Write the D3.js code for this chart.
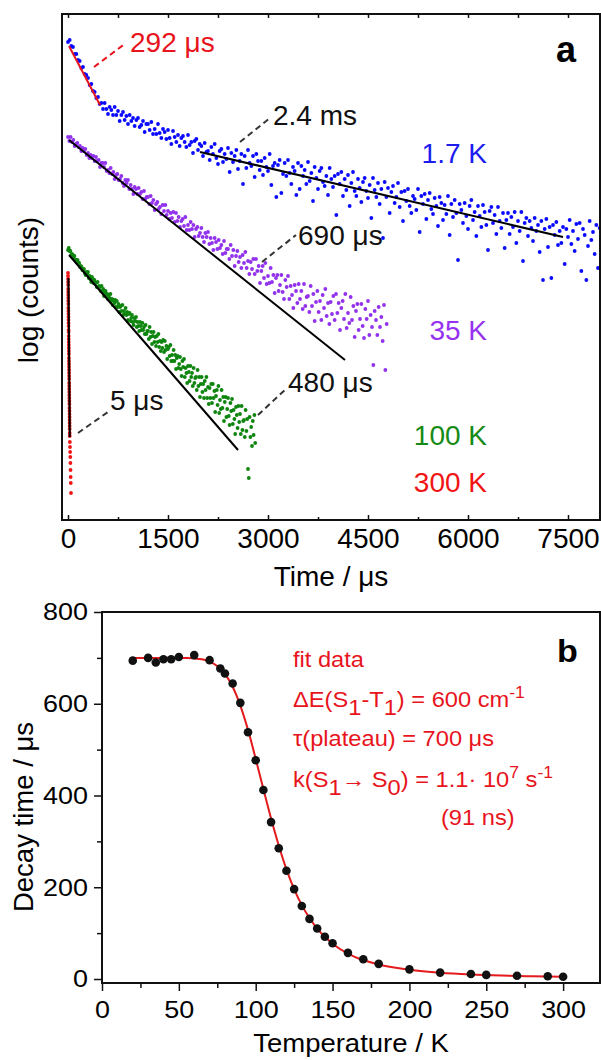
<!DOCTYPE html>
<html>
<head>
<meta charset="utf-8">
<script src="https://cdn.jsdelivr.net/npm/d3@7"></script>
<style>
  body { margin: 0; background: #fff; }
  svg { display: block; font-family: "Liberation Sans", Arial, sans-serif; }
</style>
</head>
<body>
<svg id="chart" width="601" height="1060"></svg>
<script>
// ---------- panel a : decay curves (time in us, log counts arbitrary units) ----------
const blueStep = 25;   // us per channel
const blueLog = [
  4.78,4.80,4.74,4.73,4.66,4.66,4.60,4.59,4.52,4.53,4.46,4.45,4.42,4.35,4.36,4.29,4.28,4.22,4.23,4.16,
  4.17,4.11,4.17,4.11,4.06,4.13,4.10,4.05,4.13,4.05,4.09,3.99,4.05,4.08,4.00,4.04,3.96,4.05,3.99,4.02,
  3.94,4.00,4.02,3.93,3.95,3.99,3.88,3.96,3.96,3.90,3.98,3.86,3.91,3.86,3.96,3.87,3.82,3.91,3.88,3.81,
  3.90,3.82,3.76,3.89,3.83,3.78,3.85,3.74,3.82,3.84,3.78,3.73,3.85,3.75,3.78,3.67,3.79,3.81,3.70,3.76,
  3.74,3.64,3.77,3.68,3.69,3.60,3.73,3.66,3.76,3.62,3.56,3.69,3.71,3.58,3.66,3.61,3.72,3.48,3.67,3.58,
  3.64,3.70,3.51,3.59,3.66,3.36,3.64,3.52,3.70,3.57,3.54,3.64,3.43,3.66,3.59,3.50,3.59,3.45,3.62,3.53,
  3.49,3.66,3.35,3.54,3.57,3.23,3.55,3.60,3.27,3.46,3.57,3.44,3.60,3.47,3.36,3.53,3.49,3.25,3.57,3.31,
  3.54,3.44,3.50,3.36,3.58,3.39,3.47,3.19,3.53,3.42,3.31,3.49,3.52,3.38,3.34,3.44,3.25,3.52,3.41,3.33,
  3.44,3.05,3.46,3.36,3.48,3.24,3.41,3.30,3.45,3.14,3.37,3.48,3.29,3.24,3.41,3.32,3.18,3.38,3.42,3.29,
  3.22,3.35,3.02,3.42,3.30,3.23,3.37,3.16,3.31,2.82,3.38,3.23,3.32,3.07,3.28,3.34,3.17,3.23,3.37,3.13,
  3.28,2.99,3.29,3.19,3.31,3.14,3.07,3.24,3.21,3.10,3.31,2.88,3.24,3.16,3.26,3.01,3.20,3.27,3.11,3.06,
  3.22,3.14,2.94,3.23,3.17,3.00,3.15,3.06,3.24,2.85,3.16,3.03,3.20,3.07,2.60,3.16,3.10,2.97,3.17,3.04,
  2.91,3.14,3.20,3.00,3.08,2.84,3.14,3.04,2.93,3.15,3.08,2.95,2.70,3.09,3.13,2.97,3.05,2.86,3.13,2.99,
  2.92,3.07,2.72,3.00,3.07,2.86,3.03,2.93,3.08,2.77,2.99,2.89,3.08,2.59,2.97,3.02,2.84,2.99,2.92,2.79,
  3.02,2.89,2.95,2.68,2.99,2.40,2.91,3.01,2.73,2.93,2.42,2.95,2.85,2.98,2.75,2.89,2.77,2.93,2.56,2.91,
  2.83,3.00,2.76,2.89,2.69,2.96,2.81,2.97,2.49,2.91,2.85,2.40,2.74,2.99,2.80,2.88,2.66,2.95,2.52,2.92
];

const purpleStep = 20;
const purpleLog = [
  3.83,3.79,3.83,3.78,3.80,3.74,3.76,3.77,3.73,3.74,3.69,3.72,3.69,3.71,3.65,3.67,3.62,3.65,3.62,3.64,
  3.59,3.63,3.59,3.60,3.53,3.57,3.57,3.53,3.57,3.49,3.50,3.47,3.52,3.46,3.48,3.41,3.45,3.46,3.40,3.41,
  3.44,3.37,3.34,3.40,3.37,3.40,3.31,3.35,3.31,3.26,3.33,3.31,3.26,3.32,3.26,3.28,3.21,3.29,3.21,3.23,
  3.23,3.16,3.24,3.17,3.20,3.10,3.16,3.18,3.11,3.13,3.06,3.15,3.09,3.15,3.05,3.09,3.01,3.07,3.02,3.08,
  2.98,3.07,2.99,3.03,2.93,2.99,3.01,2.94,3.03,2.90,2.95,2.90,2.98,2.91,2.95,2.83,2.91,2.93,2.84,2.87,
  2.92,2.83,2.78,2.87,2.83,2.88,2.76,2.82,2.77,2.70,2.82,2.78,2.71,2.80,2.72,2.75,2.66,2.79,2.67,2.71,
  2.71,2.61,2.75,2.64,2.70,2.54,2.64,2.69,2.58,2.63,2.52,2.65,2.57,2.68,2.52,2.59,2.46,2.58,2.51,2.61,
  2.46,2.61,2.49,2.54,2.37,2.49,2.54,2.42,2.57,2.36,2.44,2.37,2.52,2.38,2.45,2.27,2.42,2.45,2.29,2.35,
  2.45,2.28,2.21,2.40,2.33,2.44,2.21,2.34,2.25,2.12,2.35,2.29,2.17,2.36,2.21,2.29,2.11,2.36,2.14,2.23,
  2.24,2.08,2.34,2.14,2.26,1.99,2.18,2.29,2.08,2.19,2.00,2.25,2.12,2.31,2.04,2.17,1.96,2.18,2.06,2.24,
  2.00,2.26,2.07,2.17,1.90,2.12,2.19,2.01,2.26,1.92,2.07,1.97,2.23,2.00,2.14,1.83,2.09,2.16,1.90,2.01,
  2.16,1.94,1.82,2.11,2.01,2.19,1.85,2.05,1.93,1.55,2.09,2.00,1.85,2.13,1.93,2.03,1.79,2.15,1.50,1.96
];

const greenStep = 12;
const greenLog = [
  2.70,2.72,2.69,2.69,2.65,2.66,2.65,2.62,2.64,2.60,2.60,2.58,2.60,2.57,2.57,2.53,2.54,2.53,2.50,2.50,
  2.51,2.47,2.45,2.48,2.46,2.48,2.42,2.44,2.41,2.38,2.43,2.41,2.37,2.40,2.37,2.37,2.33,2.38,2.33,2.34,
  2.33,2.29,2.34,2.29,2.31,2.24,2.27,2.29,2.24,2.26,2.21,2.25,2.22,2.26,2.19,2.21,2.15,2.20,2.17,2.20,
  2.13,2.19,2.13,2.16,2.08,2.13,2.14,2.09,2.15,2.05,2.09,2.06,2.12,2.05,2.08,2.00,2.06,2.07,1.99,2.02,
  2.05,1.98,1.95,2.02,1.99,2.03,1.93,1.98,1.94,1.89,1.98,1.94,1.90,1.97,1.90,1.93,1.86,1.95,1.86,1.89,
  1.89,1.81,1.93,1.83,1.88,1.76,1.84,1.88,1.78,1.83,1.74,1.84,1.78,1.86,1.73,1.79,1.69,1.78,1.72,1.80,
  1.68,1.79,1.70,1.74,1.61,1.71,1.73,1.64,1.75,1.59,1.65,1.59,1.70,1.59,1.65,1.51,1.62,1.64,1.52,1.56,
  1.63,1.51,1.44,1.59,1.53,1.61,1.43,1.52,1.47,1.37,1.54,1.48,1.39,1.54,1.43,1.47,1.34,1.52,1.37,1.42,
  1.43,1.30,1.50,1.34,1.43,1.23,1.36,1.43,1.28,1.36,1.22,1.39,1.30,1.43,1.22,1.33,1.16,1.32,1.22,1.36,
  1.17,1.36,1.22,1.29,1.08,1.24,1.30,1.15,1.34,1.07,1.20,1.11,1.30,1.12,1.23,0.99,1.18,1.23,1.03,1.11,
  1.22,1.04,0.95,1.17,1.09,1.21,0.96,1.10,1.01,0.86,1.13,1.05,0.92,1.14,0.98,1.06,0.86,1.14,0.90,0.99,
  1.00,0.83,1.10,0.89,1.01,0.51,0.42,1.03,0.83,0.93,0.74,0.99,0.85,1.05,0.77
];

// 300 K: fast part sampled every 0.5 us, then the weak tail
const redStep = 0.5;
const redLog = [
  2.47,2.44,2.41,2.38,2.35,2.31,2.28,2.25,2.22,2.19,2.16,2.12,2.09,2.06,2.03,2.00,1.97,1.94,1.90,1.88,
  1.84,1.81,1.78,1.75,1.72,1.69,1.66,1.62,1.59,1.56,1.53,1.50,1.47,1.44,1.41,1.37,1.34,1.31,1.28,1.25,
  1.22,1.19,1.16,1.12,1.09,1.06,1.03,1.00,0.97,0.94,0.91,0.87,0.84
];
const redTailTime = [28, 30, 32, 34, 36, 38, 40, 42, 45];
const redTailLog  = [0.78, 0.73, 0.68, 0.63, 0.57, 0.50, 0.43, 0.37, 0.27];

// mono-exponential fits [time, log counts]
const fitBlueFast = [[15, 4.74], [480, 4.15]];
const fitBlueSlow = [[1980, 3.68], [7425, 2.83]];
const fitPurple   = [[15, 3.80], [4155, 1.60]];
const fitGreen    = [[15, 2.65], [2550, 0.70]];
const fitRed      = [[7, 2.42], [27, 0.83]];

const xTicksA = [0, 1500, 3000, 4500, 6000, 7500];
const xMinorA = [750, 2250, 3750, 5250, 6750];

// ---------- panel b : decay time vs temperature ----------
const tempK   = [20,30,35,40,45,50,60,70,77,80,85,90,95,100,105,110,115,120,125,130,135,140,145,150,160,170,180,200,220,240,250,270,290,300];
const decayUs = [694,700,690,697,697,702,706,695,677,666,644,602,538,477,412,342,285,236,196,159,131,110,92,78,57,43,33,21,14,11,9,7,6,5];

const fitTempK   = [20,30,40,50,55,60,65,70,75,80,85,90,95,100,105,110,115,120,125,130,135,140,145,150,160,170,180,190,200,220,240,260,280,300];
const fitDecayUs = [700,700,700,700,699.7,699,697,692,682,665,637,596,543,480,414,350,291,239,196,161,133,110,92,77,55.5,41.3,31.6,24.9,20.0,13.6,9.9,7.6,6.0,4.9];

const xTicksB = [0, 50, 100, 150, 200, 250, 300];
const xMinorB = [25, 75, 125, 175, 225, 275];
const yTicksB = [0, 200, 400, 600, 800];
const yMinorB = [100, 300, 500, 700];

const svg = d3.select('#chart');
const plain = d3.format('d');

// stretch text horizontally (panel b glyphs are wider than tall)
function stretch(sel, k) {
  sel.each(function () {
    const t = d3.select(this);
    const x = +t.attr('x') || 0, y = +t.attr('y') || 0;
    t.attr('x', null).attr('y', null)
      .attr('transform', `translate(${x},${y}) scale(${k},1)`);
  });
}

// ================= panel a =================
const xA = d3.scaleLinear().domain([-90, 7980]).range([62, 600]);
const yA = d3.scaleLinear().domain([0, 5.06]).range([520, 14]);
const gA = svg.append('g');

const decays = [
  { color: '#0a0aff', step: blueStep, values: blueLog },
  { color: '#9232ec', step: purpleStep, values: purpleLog },
  { color: '#0e850e', step: greenStep, values: greenLog },
];

const dots = decays.flatMap(s => s.values.map((v, i) => ({ t: i * s.step, v, color: s.color })));
redLog.forEach((v, i) => dots.push({ t: i * redStep, v, color: '#f01414' }));
redTailTime.forEach((t, i) => dots.push({ t, v: redTailLog[i], color: '#f01414' }));

gA.append('g').selectAll('circle')
  .data(dots)
  .join('circle')
  .attr('cx', d => xA(d.t))
  .attr('cy', d => yA(d.v))
  .attr('r', 1.9)
  .attr('fill', d => d.color);

const lineA = d3.line().x(d => xA(d[0])).y(d => yA(d[1]));
const fits = [
  { pts: fitBlueFast, color: '#e8141c' },
  { pts: fitBlueSlow, color: '#000' },
  { pts: fitPurple, color: '#000' },
  { pts: fitGreen, color: '#000' },
  { pts: fitRed, color: '#000' },
];
gA.append('g').selectAll('path')
  .data(fits)
  .join('path')
  .attr('d', d => lineA(d.pts))
  .attr('fill', 'none')
  .attr('stroke', d => d.color)
  .attr('stroke-width', 2);

// dashed leaders + lifetimes
const leaders = [
  { a: [390, 4.53], b: [870, 4.77], color: '#e8141c' },
  { a: [2580, 3.78], b: [3030, 4.02], color: '#333' },
  { a: [2910, 2.58], b: [3420, 2.85], color: '#333' },
  { a: [2850, 1.05], b: [3285, 1.32], color: '#333' },
  { a: [150, 0.87], b: [620, 1.09], color: '#333' },
];
gA.append('g').selectAll('line')
  .data(leaders)
  .join('line')
  .attr('x1', d => xA(d.a[0])).attr('y1', d => yA(d.a[1]))
  .attr('x2', d => xA(d.b[0])).attr('y2', d => yA(d.b[1]))
  .attr('stroke', d => d.color)
  .attr('stroke-width', 2)
  .attr('stroke-dasharray', '6,4');

const lifetimes = [
  { text: '292 \u03bcs', t: 930, v: 4.68, color: '#e8141c' },
  { text: '2.4 ms', t: 3075, v: 3.95, color: '#111' },
  { text: '690 \u03bcs', t: 3450, v: 2.75, color: '#111' },
  { text: '480 \u03bcs', t: 3300, v: 1.28, color: '#111' },
  { text: '5 \u03bcs', t: 630, v: 1.10, color: '#111' },
];
gA.append('g').selectAll('text')
  .data(lifetimes)
  .join('text')
  .attr('x', d => xA(d.t)).attr('y', d => yA(d.v))
  .attr('fill', d => d.color)
  .attr('font-size', 28)
  .text(d => d.text);

const tempLabels = [
  { text: '1.7 K', v: 3.57, color: '#1c1cf0' },
  { text: '35 K', v: 1.80, color: '#9632f0' },
  { text: '100 K', v: 0.75, color: '#158a15' },
  { text: '300 K', v: 0.28, color: '#f01414' },
];
gA.append('g').selectAll('text')
  .data(tempLabels)
  .join('text')
  .attr('x', xA(6285)).attr('y', d => yA(d.v))
  .attr('text-anchor', 'end')
  .attr('fill', d => d.color)
  .attr('font-size', 28)
  .text(d => d.text);

// axes (inward ticks, mirrored on top)
const axA = gA.append('g').attr('transform', 'translate(0,520)')
  .call(d3.axisBottom(xA).tickValues(xTicksA).tickFormat(plain)
    .tickSizeInner(-5).tickSizeOuter(0).tickPadding(8));
axA.selectAll('text').attr('font-size', 28).attr('fill', '#000');
gA.append('g').attr('transform', 'translate(0,520)')
  .call(d3.axisBottom(xA).tickValues(xMinorA).tickSize(-3).tickFormat(''));
gA.append('g').attr('transform', 'translate(0,14)')
  .call(d3.axisTop(xA).tickValues(xTicksA.concat(xMinorA)).tickSize(-4).tickFormat(''));
gA.selectAll('.domain').remove();
gA.selectAll('.tick line').attr('stroke', '#111').attr('stroke-width', 1.5);
gA.selectAll('g').attr('font-family', null);

gA.append('rect')
  .attr('x', 62).attr('y', 14).attr('width', 538).attr('height', 506)
  .attr('fill', 'none').attr('stroke', '#111').attr('stroke-width', 2);

gA.append('text').attr('x', 331).attr('y', 586)
  .attr('text-anchor', 'middle').attr('font-size', 28).text('Time / \u03bcs');
gA.append('text').attr('transform', 'translate(38,290) rotate(-90)')
  .attr('text-anchor', 'middle').attr('font-size', 28).text('log (counts)');
gA.append('text').attr('x', 556).attr('y', 62)
  .attr('font-size', 36).attr('font-weight', 'bold').text('a');

// ================= panel b =================
const xB = d3.scaleLinear().domain([0, 324]).range([102, 600]);
const yB = d3.scaleLinear().domain([-8.7, 800]).range([983, 612]);
const gB = svg.append('g');
const sx = 1.1;

const fitLine = d3.line().curve(d3.curveMonotoneX)
  .x((d, i) => xB(fitTempK[i])).y(d => yB(d));
gB.append('path')
  .attr('d', fitLine(fitDecayUs))
  .attr('fill', 'none').attr('stroke', '#e41a1c').attr('stroke-width', 2);

gB.append('g').selectAll('circle')
  .data(tempK)
  .join('circle')
  .attr('cx', d => xB(d))
  .attr('cy', (d, i) => yB(decayUs[i]))
  .attr('r', 4.3)
  .attr('fill', '#111');

const axBx = gB.append('g').attr('transform', 'translate(0,983)')
  .call(d3.axisBottom(xB).tickValues(xTicksB).tickFormat(plain).tickSize(8).tickPadding(10));
gB.append('g').attr('transform', 'translate(0,983)')
  .call(d3.axisBottom(xB).tickValues(xMinorB).tickSize(5).tickFormat(''));
const axBy = gB.append('g').attr('transform', 'translate(102,0)')
  .call(d3.axisLeft(yB).tickValues(yTicksB).tickFormat(plain).tickSize(8).tickPadding(6));
gB.append('g').attr('transform', 'translate(102,0)')
  .call(d3.axisLeft(yB).tickValues(yMinorB).tickSize(5).tickFormat(''));
gB.selectAll('.domain').remove();
gB.selectAll('.tick line').attr('stroke', '#111').attr('stroke-width', 1.5);
[axBx, axBy].forEach(ax => {
  const t = ax.selectAll('text').attr('font-size', 24.5).attr('fill', '#000');
  stretch(t, sx);
});
gB.selectAll('g').attr('font-family', null);

gB.append('rect')
  .attr('x', 102).attr('y', 612).attr('width', 498).attr('height', 371)
  .attr('fill', 'none').attr('stroke', '#111').attr('stroke-width', 2);

const tb = gB.append('text').attr('x', 351).attr('y', 1052)
  .attr('text-anchor', 'middle').attr('font-size', 25).text('Temperature / K');
stretch(tb, sx);
gB.append('text').attr('transform', 'translate(33,817) rotate(-90)')
  .attr('text-anchor', 'middle').attr('font-size', 27.5).text('Decay time / \u03bcs');
const bl = gB.append('text').attr('x', 557).attr('y', 662)
  .attr('font-size', 31).attr('font-weight', 'bold').text('b');
stretch(bl, sx);

// fit parameters with sub/superscripts
const fitText = [
  { x: 293, y: 667, parts: [['fit data']] },
  { x: 293, y: 707, parts: [['\u0394E(S'], ['1', 'sub'], ['-T'], ['1', 'sub'], [') = 600 cm'], ['-1', 'sup']] },
  { x: 293, y: 746, parts: [['\u03c4(plateau) = 700 \u03bcs']] },
  { x: 293, y: 787, parts: [['k(S'], ['1', 'sub'], ['\u2192 S'], ['0', 'sub'], [') = 1.1\u00b7 10'], ['7', 'sup'], [' s'], ['-1', 'sup']] },
  { x: 441, y: 825, parts: [['(91 ns)']] },
];
fitText.forEach(row => {
  const t = gB.append('text').attr('x', row.x).attr('y', row.y)
    .attr('font-size', 21.5).attr('fill', '#e8141c');
  let shift = 0;
  row.parts.forEach(([s, kind]) => {
    const target = kind === 'sub' ? 8 : kind === 'sup' ? -9 : 0;
    t.append('tspan')
      .attr('dy', target - shift)
      .attr('font-size', kind === 'sup' ? 16 : null)
      .text(s);
    shift = target;
  });
  stretch(t, sx);
});
</script>
</body>
</html>
